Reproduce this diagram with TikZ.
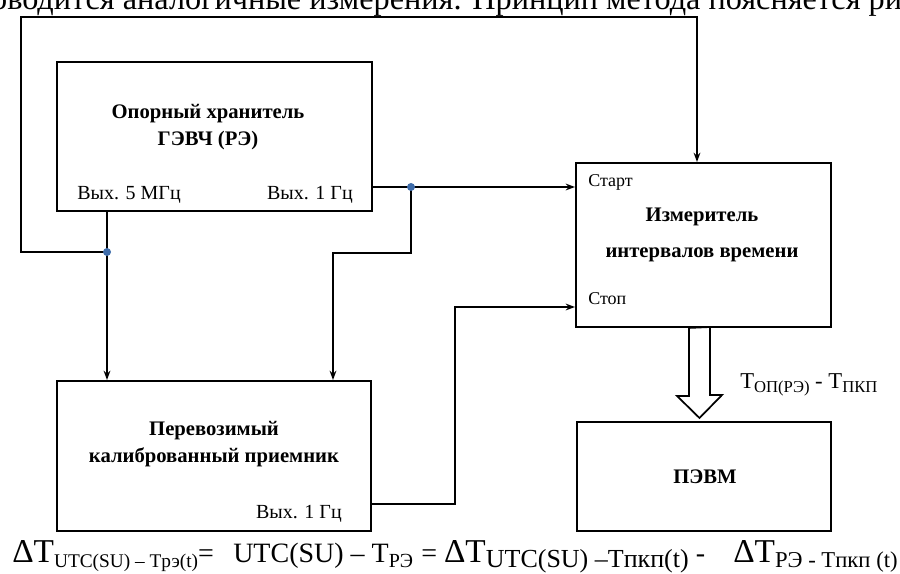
\documentclass[tikz,border=0pt]{standalone}
\usepackage{fontspec}
\setmainfont{Liberation Serif}[BoldFont={Liberation Serif Bold},ItalicFont={Liberation Serif Italic}]
\usetikzlibrary{arrows.meta,calc}
\newcommand{\lowsub}[2][15]{\raisebox{-0.18em}{\fontsize{#1}{#1}\selectfont #2}}
\newcommand{\bigDT}{{\fontsize{25}{26}\selectfont ΔT}}
\definecolor{dotblue}{RGB}{62,108,170}
\begin{document}
\begin{tikzpicture}[x=0.75pt,y=-0.75pt,
  blockbox/.style={draw=black,line width=1.4pt,fill=none,inner sep=0pt},
  wire/.style={draw=black,line width=1.3pt},
  arr/.style={wire,-{Stealth[length=7pt,width=5pt,inset=2.2pt]}},
  jdot/.style={circle,fill=dotblue,inner sep=0pt,minimum size=6pt},
  boldtxt/.style={font=\fontsize{15.5}{20}\selectfont\bfseries,align=center,inner sep=0pt},
  plaintxt/.style={font=\fontsize{15}{16}\selectfont,inner sep=0pt},
  smalltxt/.style={font=\fontsize{13.5}{14}\selectfont,inner sep=0pt},
  eqtxt/.style={anchor=base west,inner sep=0pt,font=\fontsize{21}{26}\selectfont},
  fatarrow/.style={draw=black,line width=1.3pt,fill=white,line join=miter}]
\useasboundingbox (0,0) rectangle (900,574);

% top cut-off text line
\node[anchor=base west,inner sep=0pt,font=\fontsize{24.2}{26}\selectfont] (toptext) at (7,10) {\llap{про}водится аналогичные измерения. Принцип метода поясняется рисунком};

% blocks
\node[blockbox,minimum width=236.25pt,minimum height=111.75pt] (opor) at (214.5,136.5) {};
\node[blockbox,minimum width=191.25pt,minimum height=123pt] (izm) at (703.5,245) {};
\node[blockbox,minimum width=235.5pt,minimum height=112.5pt] (perev) at (214,456) {};
\node[blockbox,minimum width=190.5pt,minimum height=81.75pt] (pevm) at (704,476.5) {};

% texts in blocks
\node[boldtxt] (oportxt) at (208,127) {Опорный хранитель\\ГЭВЧ (РЭ)};
\node[plaintxt,anchor=west] (out5) at (77,195) {Вых. 5 МГц};
\node[plaintxt,anchor=east] (out1a) at (353,195) {Вых. 1 Гц};
\node[smalltxt,anchor=west] (start) at (588,182) {Старт};
\node[boldtxt] (izm1) at (702,217) {Измеритель};
\node[boldtxt] (izm2) at (702,255) {интервалов времени};
\node[smalltxt,anchor=west] (stop) at (588,299) {Стоп};
\node[boldtxt] (perevtxt) at (214,444) {Перевозимый\\калиброванный приемник};
\node[plaintxt,anchor=east] (out1b) at (342,514) {Вых. 1 Гц};
\node[boldtxt] (pevmtxt) at (705,477) {ПЭВМ};

% junctions and helper points
\coordinate (j1) at (107,252);
\coordinate (j2) at (411,187);
\coordinate (loopl) at (21,17);
\coordinate (topin) at (697,17);
\coordinate (b1) at (333,253);
\coordinate (stopx) at (455,504);
\coordinate (stopy) at (455,307);

% connectors
\draw[arr] (j1 |- opor.south) -- (j1 |- perev.north);
\draw[arr] (j1) -- (j1 -| loopl) -- (loopl) -- (topin) -- (topin |- izm.north);
\draw[arr] (j2 -| opor.east) -- (j2 -| izm.west);
\draw[arr] (j2) -- (j2 |- b1) -- (b1) -- (b1 |- perev.north);
\draw[arr] (stopx -| perev.east) -- (stopx) -- (stopy) -- (stopy -| izm.west);

\node[jdot] (d1) at (j1) {};
\node[jdot] (d2) at (j2) {};

% hollow arrow
\coordinate (ha) at (699.5,0);
\draw[fatarrow] (ha |- izm.south) ++(-10.5,0) -- ++(0,68) -- ++(-12,0)
  -- (ha |- 0,418) -- ++(22.5,-23) -- ++(-12,0) -- ++(0,-68) -- cycle;

% label of hollow arrow
\node[anchor=base west,inner sep=0pt,font=\fontsize{17}{18}\selectfont] (tlabel) at (740,388) {Т\lowsub[12.5]{ОП(РЭ)} - Т\lowsub[12.5]{ПКП}};

% equation
\node[eqtxt] (eq1) at (12,562) {\bigDT\lowsub[14.5]{UTC(SU) – Tрэ(t)}=};
\node[eqtxt] (eq2) at (233,562) {UTC(SU) – T\lowsub[15]{РЭ}};
\node[eqtxt] (eq3) at (421,562) {= \bigDT\lowsub[19.5]{UTC(SU) –Tпкп(t)} -};
\node[eqtxt] (eq4) at (733,562) {\bigDT\lowsub[17]{РЭ - Tпкп (t)}};
\end{tikzpicture}
\end{document}
